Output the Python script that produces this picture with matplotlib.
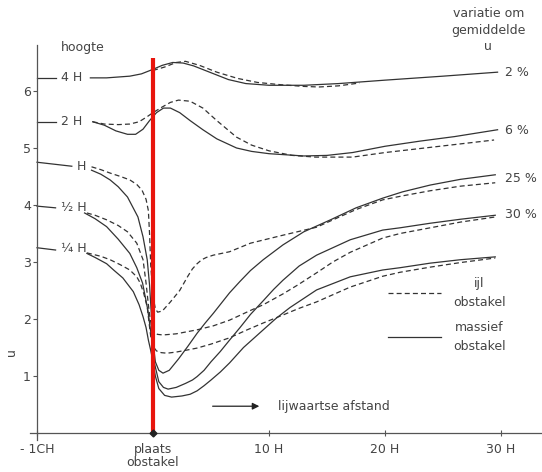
import matplotlib
matplotlib.use('Agg')
import matplotlib.pyplot as plt
from matplotlib.lines import Line2D

plt.rcParams['font.family'] = ['DejaVu Sans']

# distance in units of obstacle height H, height in the axis units
x_4h = [-5.4, -4, -2, -1, 0, 0.8, 1.7, 2.6, 3.5, 5, 6.5, 8, 10, 13, 16, 20, 25, 29.7]
y_4h = [6.23, 6.23, 6.26, 6.30, 6.38, 6.45, 6.50, 6.49, 6.44, 6.32, 6.20, 6.13, 6.10, 6.10, 6.13, 6.19, 6.26, 6.33]
x_4h_ijl = [0, 1, 2, 2.8, 4, 5.5, 7.3, 9, 11, 13, 14.3, 16, 17.8]
y_4h_ijl = [6.36, 6.42, 6.50, 6.52, 6.45, 6.33, 6.22, 6.15, 6.11, 6.08, 6.07, 6.09, 6.14]

x_2h = [-5.2, -4.2, -3.2, -2.2, -1.5, -0.86, -0.3, 0.3, 0.9, 1.5, 2.3, 3.2, 4.3, 5.5, 7.2, 8.5, 10, 13, 15, 17.2, 20, 23, 26, 29.7]
y_2h = [5.46, 5.40, 5.30, 5.24, 5.24, 5.33, 5.48, 5.62, 5.70, 5.70, 5.62, 5.48, 5.32, 5.16, 5.00, 4.94, 4.90, 4.86, 4.87, 4.92, 5.03, 5.12, 5.20, 5.32]
x_2h_ijl = [-5.2, -4.2, -3, -2, -1.2, -0.5, 0, 0.8, 1.5, 2.2, 3.2, 4.3, 5.5, 7.2, 8.5, 10, 12, 14, 17.2, 20, 23, 26, 29.4]
y_2h_ijl = [5.46, 5.42, 5.41, 5.42, 5.46, 5.55, 5.62, 5.72, 5.80, 5.84, 5.82, 5.70, 5.48, 5.19, 5.05, 4.95, 4.87, 4.84, 4.84, 4.92, 4.99, 5.06, 5.14]

x_1h = [-5.3, -4.5, -3.7, -3, -2.2, -1.3, -0.86, -0.5, -0.3, -0.15, 0, 0.2, 0.5, 0.86, 1.4, 2.2, 3, 3.8, 4.5, 5.2, 5.9, 6.6, 7.5, 8.4, 9.5, 11.2, 13, 15.3, 17.5, 19.8, 21.5, 23.9, 26.5, 29.5]
y_1h = [4.61, 4.54, 4.44, 4.32, 4.14, 3.79, 3.44, 3.04, 2.60, 2.10, 1.60, 1.25, 1.10, 1.05, 1.10, 1.30, 1.52, 1.75, 1.93, 2.10, 2.28, 2.46, 2.66, 2.85, 3.04, 3.30, 3.53, 3.74, 3.95, 4.12, 4.23, 4.35, 4.45, 4.53]
x_1h_ijl = [-5.3, -4.5, -3.7, -2.8, -2, -1.4, -0.95, -0.6, -0.4, -0.3, -0.2, 0, 0.2, 0.4, 0.8, 1.5, 2.3, 3, 3.4, 3.8, 4.2, 4.6, 5.2, 6.6, 8.4, 11.2, 14.1, 15.3, 17.5, 19.8, 21.5, 23.9, 26.5, 29.5]
y_1h_ijl = [4.67, 4.62, 4.56, 4.50, 4.44, 4.36, 4.26, 4.10, 3.90, 3.50, 2.95, 2.40, 2.18, 2.12, 2.14, 2.30, 2.50, 2.75, 2.88, 2.97, 3.04, 3.08, 3.12, 3.18, 3.33, 3.47, 3.61, 3.72, 3.92, 4.09, 4.16, 4.25, 4.33, 4.39]

x_half = [-5.9, -5, -4, -3, -2, -1.4, -0.9, -0.45, -0.1, 0.15, 0.5, 0.9, 1.3, 2, 2.8, 3.4, 3.8, 4.4, 5, 5.8, 6.6, 7.5, 8.4, 9.5, 10.4, 11.2, 12.6, 14.1, 17, 19.8, 21.3, 23.9, 26.5, 29.5]
y_half = [3.86, 3.76, 3.62, 3.40, 3.15, 2.90, 2.63, 2.16, 1.63, 1.20, 0.90, 0.80, 0.77, 0.80, 0.87, 0.93, 0.99, 1.10, 1.25, 1.43, 1.63, 1.85, 2.08, 2.32, 2.52, 2.68, 2.93, 3.12, 3.39, 3.56, 3.60, 3.68, 3.75, 3.82]
x_half_ijl = [-5.7, -5, -4, -3, -2.2, -1.4, -0.86, -0.6, -0.4, -0.25, -0.1, 0.1, 0.4, 0.86, 2, 3.8, 5.2, 6.6, 8.4, 9.5, 11.2, 12.5, 14.1, 15.5, 17, 19.8, 21.3, 23.9, 26.5, 29.5]
y_half_ijl = [3.86, 3.82, 3.74, 3.64, 3.53, 3.33, 3.04, 2.63, 2.25, 2.00, 1.85, 1.76, 1.73, 1.72, 1.74, 1.81, 1.88, 1.98, 2.15, 2.25, 2.44, 2.60, 2.81, 3.00, 3.17, 3.42, 3.50, 3.60, 3.70, 3.79]

x_quarter = [-5.7, -5, -4, -3.4, -2.6, -1.7, -1.2, -0.86, -0.6, -0.4, -0.2, 0, 0.2, 0.5, 1, 1.6, 2.5, 3.2, 3.8, 4.4, 5, 5.8, 6.6, 7.8, 9.5, 10.6, 11.8, 14.1, 17, 19.8, 21.3, 23.9, 26.5, 29.5]
y_quarter = [3.15, 3.08, 2.97, 2.86, 2.72, 2.48, 2.25, 2.04, 1.85, 1.63, 1.45, 1.25, 1.00, 0.78, 0.66, 0.63, 0.65, 0.68, 0.74, 0.83, 0.93, 1.07, 1.23, 1.50, 1.81, 2.01, 2.20, 2.51, 2.74, 2.86, 2.90, 2.98, 3.04, 3.09]
x_quarter_ijl = [-5.7, -4.5, -3.7, -2.8, -2, -1.4, -1.1, -0.8, -0.5, -0.35, -0.2, 0, 0.3, 0.7, 1.2, 2, 2.8, 3.8, 5, 6.6, 8, 9.5, 11.2, 12.5, 14.1, 17, 19.8, 21.3, 23.9, 26.5, 29.5]
y_quarter_ijl = [3.16, 3.10, 3.04, 2.95, 2.86, 2.74, 2.63, 2.45, 2.21, 1.95, 1.70, 1.52, 1.44, 1.41, 1.40, 1.42, 1.45, 1.49, 1.56, 1.67, 1.80, 1.93, 2.07, 2.18, 2.30, 2.56, 2.75, 2.82, 2.91, 2.99, 3.07]

# short leader lines from the height axis to the height labels
leader_x = [[-10, -8.4], [-10, -8.4], [-10, -7.0], [-10, -8.4], [-10, -8.4]]
leader_y = [[6.23, 6.23], [5.46, 5.46], [4.75, 4.68], [3.98, 3.95], [3.25, 3.21]]
height_labels = ['4 H', '2 H', 'H', '½ H', '¼ H']
height_label_x = [-7.0, -7.0, -6.2, -6.8, -6.8]
height_label_y = [6.23, 5.46, 4.68, 3.96, 3.23]

variation_labels = ['2 %', '6 %', '25 %', '30 %']
variation_y = [6.33, 5.30, 4.47, 3.84]

x_ticks = [-10, 0, 10, 20, 30]
x_tick_labels = ['- 1CH', 'plaats\nobstakel', '10 H', '20 H', '30 H']
y_ticks = [1, 2, 3, 4, 5, 6]

obstacle_x = 0
obstacle_top = 6.58

line_col = '#333333'
text_col = '#444444'
dash = (4, 2.5)

fig = plt.figure(figsize=(5.42, 4.72), dpi=100)
ax = fig.add_axes([0, 0, 1, 1])
ax.set_xlim(-13.19, 33.53)
ax.set_ylim(-0.684, 7.596)

# solid = massief obstakel, dashed = ijl obstakel
solid = [(x_4h, y_4h), (x_2h, y_2h), (x_1h, y_1h), (x_half, y_half), (x_quarter, y_quarter)]
dashed = [(x_4h_ijl, y_4h_ijl), (x_2h_ijl, y_2h_ijl), (x_1h_ijl, y_1h_ijl),
          (x_half_ijl, y_half_ijl), (x_quarter_ijl, y_quarter_ijl)]
for xs, ys in solid:
    ax.plot(xs, ys, color=line_col, lw=0.9, solid_joinstyle='round')
for xs, ys in dashed:
    ax.plot(xs, ys, color=line_col, lw=0.9, dashes=dash)

for lx, ly in zip(leader_x, leader_y):
    ax.plot(lx, ly, color=line_col, lw=0.9)
for lab, tx, ty in zip(height_labels, height_label_x, height_label_y):
    ax.text(tx, ty, lab, ha='center', va='center', fontsize=9, color=text_col)

for lab, ty in zip(variation_labels, variation_y):
    ax.text(30.3, ty, lab, ha='left', va='center', fontsize=9, color=text_col)
ax.text(28.9, 7.47, 'variatie om\ngemiddelde\nu', ha='center', va='top',
        fontsize=9, color=text_col, linespacing=1.35)
ax.text(-6.1, 6.77, 'hoogte', ha='center', va='center', fontsize=9, color=text_col)
ax.text(-12.2, 1.42, 'u', rotation=90, ha='center', va='center', fontsize=9, color=text_col)

# obstacle position
ax.vlines(obstacle_x, 0, obstacle_top, color='#e8150d', lw=3, zorder=5)
ax.plot([obstacle_x], [0], marker='D', ms=3.5, color='#222222', zorder=6, clip_on=False)

# direction arrow
ax.annotate('', xy=(9.4, 0.47), xytext=(4.9, 0.47),
            arrowprops=dict(arrowstyle='-|>', color='#222222', lw=0.9, mutation_scale=10))
ax.text(10.8, 0.47, 'lijwaartse afstand', ha='left', va='center', fontsize=9, color=text_col)

# legend
handles = [Line2D([], [], color=line_col, lw=0.9, dashes=dash),
           Line2D([], [], color=line_col, lw=0.9)]
leg = ax.legend(handles, ['ijl\nobstakel', 'massief\nobstakel'], loc='upper left',
                bbox_to_anchor=(388 / 542, 1 - 277 / 472), frameon=False, fontsize=9,
                handlelength=4.2, handletextpad=1.0, labelspacing=1.0,
                borderpad=0, borderaxespad=0)
for t in leg.get_texts():
    t.set_multialignment('center')
    t.set_color(text_col)
    t.set_linespacing(1.55)

# axes
for side in ['top', 'right']:
    ax.spines[side].set_visible(False)
ax.spines['left'].set_position(('data', -10))
ax.spines['bottom'].set_position(('data', 0))
ax.spines['left'].set_bounds(-0.12, 6.8)
ax.spines['bottom'].set_bounds(-10.6, 33.6)
for side in ['left', 'bottom']:
    ax.spines[side].set_color('#555555')
    ax.spines[side].set_linewidth(0.9)

ax.set_yticks(y_ticks)
ax.set_xticks(x_ticks, labels=x_tick_labels)
ax.tick_params(axis='y', direction='out', length=3, width=0.8, pad=1.5,
               colors='#555555', labelsize=9, labelcolor=text_col)
ax.tick_params(axis='x', direction='inout', length=4, width=0.8, pad=5,
               colors='#555555', labelsize=9, labelcolor=text_col)
for lab in ax.get_xticklabels():
    lab.set_linespacing(1.05)

fig.savefig('out.png', dpi=100)
